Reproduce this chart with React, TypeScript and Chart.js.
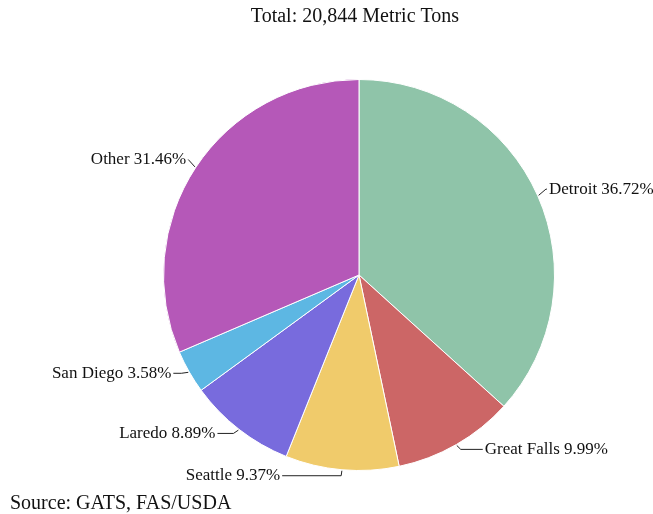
import React, { useEffect, useRef } from "react";
import { Chart, registerables } from "chart.js";

Chart.register(...registerables);

const categories = ["Detroit", "Great Falls", "Seattle", "Laredo", "San Diego", "Other"];
const shares = [36.72, 9.99, 9.37, 8.89, 3.58, 31.46];
const sliceColors = ["#8FC4A9", "#CC6666", "#F0CB6B", "#786BDD", "#5DB7E3", "#B558B8"];
const titleText = "Total: 20,844 Metric Tons";
const sourceText = "Source: GATS, FAS/USDA";
// horizontal leader lengths (label styling)
const leaderLengths = [1, 22, 59, 16, 8, 0];

const labelPlugin = {
  id: "leaderLabels",
  afterDraw(chart: any) {
    const ctx = chart.ctx as CanvasRenderingContext2D;
    const meta = chart.getDatasetMeta(0);
    const area = chart.chartArea;
    ctx.save();
    ctx.fillStyle = "#111";
    ctx.font = '20px "Liberation Serif", "Times New Roman", serif';
    ctx.textAlign = "center";
    ctx.textBaseline = "middle";
    const cx0 = (area.left + area.right) / 2;
    ctx.fillText(titleText, cx0 - 4, 17);
    ctx.textAlign = "left";
    ctx.font = '20px "Liberation Serif", "Times New Roman", serif';
    ctx.fillText(sourceText, 10, 504);

    ctx.font = '17px "Liberation Serif", "Times New Roman", serif';
    ctx.strokeStyle = "#222";
    ctx.lineWidth = 1;
    meta.data.forEach((arc: any, i: number) => {
      const { x, y, startAngle, endAngle, outerRadius } = arc.getProps(
        ["x", "y", "startAngle", "endAngle", "outerRadius"],
        true
      );
      const mid = (startAngle + endAngle) / 2;
      const dx = Math.cos(mid);
      const dy = Math.sin(mid);
      const sx = x + dx * (outerRadius + 1);
      const sy = y + dy * (outerRadius + 1);
      const ex = x + dx * (outerRadius + 9);
      const ey = y + dy * (outerRadius + 9) - 3;
      const sign = dx >= 0 ? 1 : -1;
      const hx = ex + sign * leaderLengths[i];
      ctx.beginPath();
      ctx.moveTo(sx, sy);
      ctx.lineTo(ex, ey);
      ctx.lineTo(hx, ey);
      ctx.stroke();
      ctx.textAlign = sign > 0 ? "left" : "right";
      ctx.fillText(`${categories[i]} ${shares[i].toFixed(2)}%`, hx + sign * 2, ey);
    });
    ctx.restore();
  },
};

export default function App() {
  const ref = useRef<HTMLCanvasElement>(null);
  useEffect(() => {
    document.body.style.margin = "0";
    const chart = new Chart(ref.current!, {
      type: "pie",
      data: {
        labels: categories,
        datasets: [
          {
            data: shares,
            backgroundColor: sliceColors,
            borderColor: "#ffffff",
            borderWidth: 1,
          },
        ],
      },
      options: {
        responsive: false,
        animation: false,
        layout: { padding: { top: 79, bottom: 43, left: 163, right: 98 } },
        plugins: {
          legend: { display: false },
          tooltip: { enabled: false },
          title: { display: false },
        },
      },
      plugins: [labelPlugin],
    });
    return () => chart.destroy();
  }, []);
  return (
    <div style={{ width: 653, height: 514, background: "#fff" }}>
      <canvas ref={ref} width={653} height={514} />
    </div>
  );
}
